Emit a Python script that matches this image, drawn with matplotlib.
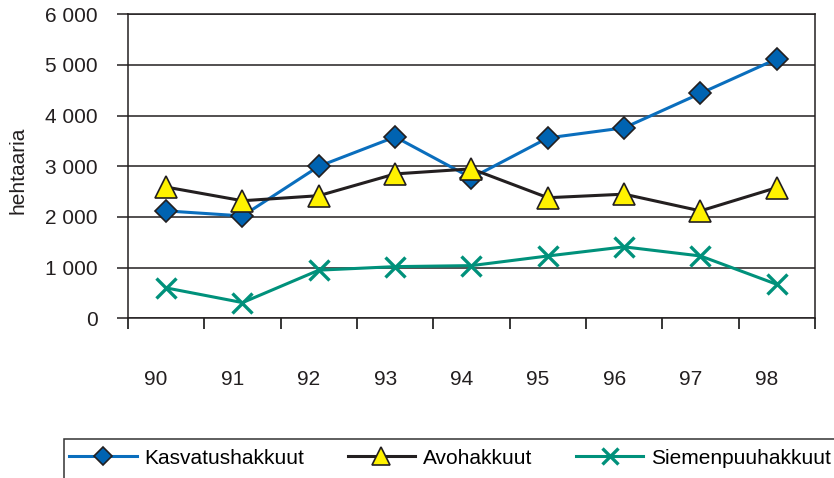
import numpy as np
import matplotlib
matplotlib.use("Agg")
import matplotlib.pyplot as plt
from matplotlib.patches import Rectangle
from matplotlib.ticker import FuncFormatter
from matplotlib.transforms import ScaledTranslation

years = ["90", "91", "92", "93", "94", "95", "96", "97", "98"]
kasvatus = [2120, 2020, 3000, 3580, 2770, 3560, 3760, 4440, 5120]
avo = [2590, 2320, 2420, 2850, 2950, 2380, 2450, 2120, 2580]
siemen = [600, 310, 950, 1020, 1040, 1230, 1410, 1230, 670]

plt.rcParams["font.family"] = ["Liberation Sans", "DejaVu Sans"]
plt.rcParams["font.size"] = 15

fig = plt.figure(figsize=(8.34, 4.78), dpi=100)
ax = fig.add_axes([128 / 834, 1 - 318.3 / 478, 687 / 834, 304 / 478])

x = np.arange(len(years))
ax.plot(x, kasvatus, color="#0a6ebd", lw=2.2, marker="D", ms=11.5,
        mfc="#0063b1", mec="#231f20", mew=1.2, label="Kasvatushakkuut", zorder=3)
ax.plot(x, avo, color="#231f20", lw=2.2, marker="^", ms=16,
        mfc="#fff200", mec="#231f20", mew=1.2, label="Avohakkuut", zorder=4)
ax.plot(x, siemen, color="#00917b", lw=2.2, marker="x", ms=15,
        mew=2.4, label="Siemenpuuhakkuut", zorder=5)

ax.set_xlim(-0.5, len(years) - 0.5)
ax.set_ylim(0, 6000)

ax.set_yticks(np.arange(0, 6001, 1000))
ax.yaxis.set_major_formatter(FuncFormatter(lambda v, p: f"{int(v):,}".replace(",", " ")))
ax.tick_params(axis="y", direction="out", length=8, width=1.1, pad=14,
               labelsize=15, colors="#231f20")

# tick marks between categories, labels at category centres
ax.set_xticks(np.arange(-0.5, len(years), 1))
ax.set_xticklabels([])
ax.set_xticks(x, minor=True)
ax.set_xticklabels(years, minor=True)
ax.tick_params(axis="x", which="major", direction="out", length=8, width=1.1)
ax.tick_params(axis="x", which="minor", length=0, pad=37, labelsize=15,
               labelcolor="#231f20")
shift = ScaledTranslation(-0.10, 0, fig.dpi_scale_trans)
for lbl in ax.get_xticklabels(minor=True):
    lbl.set_transform(lbl.get_transform() + shift)

ax.grid(axis="y", color="#231f20", lw=1.1)
ax.set_axisbelow(True)
for side in ["left", "right", "bottom", "top"]:
    ax.spines[side].set_color("#231f20")
    ax.spines[side].set_linewidth(1.1)

ax.set_ylabel("hehtaaria", fontsize=15, color="#231f20")
ax.yaxis.set_label_coords(-0.146, 0.486)

# legend box runs off the bottom and right edge of the picture
fig.patches.append(Rectangle((64 / 834, -0.2), 1.0, 0.2 + 1 - 439 / 478,
                             transform=fig.transFigure, fill=False,
                             ec="#333333", lw=1.1))
leg = fig.legend(loc="center left", bbox_to_anchor=(69 / 834, 1 - 458 / 478),
                 ncol=3, fontsize=15, handlelength=3.25, handletextpad=0.35,
                 columnspacing=2.1, borderpad=0, borderaxespad=0,
                 markerscale=0.78, frameon=False)

fig.savefig("out.png", dpi=100)
